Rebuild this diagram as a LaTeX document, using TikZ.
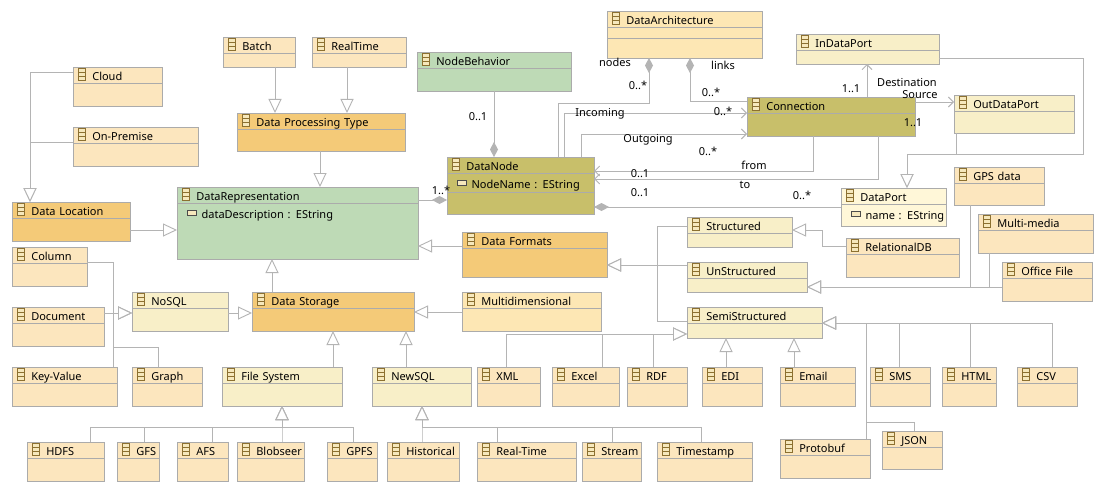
\documentclass[tikz,border=0pt]{standalone}
\usepackage{fontspec}
\setmainfont{Noto Sans}
\usetikzlibrary{arrows.meta}
\definecolor{cTan}{HTML}{FCE6BE}
\definecolor{cYel}{HTML}{FDE7B4}
\definecolor{cOrange}{HTML}{F4CA78}
\definecolor{cGreen}{HTML}{BEDAB6}
\definecolor{cOlive}{HTML}{C8BF6A}
\definecolor{cPale}{HTML}{F8EFC8}
\definecolor{cPaler}{HTML}{FFF7D8}
\definecolor{boxgray}{HTML}{ABABAB}
\definecolor{wiregray}{HTML}{B4B4B4}
\definecolor{icoline}{HTML}{8C7030}
\definecolor{icofill}{HTML}{F6E8BC}
\newcommand{\clsico}{\tikz[baseline=0pt]{\draw[icoline,fill=icofill,line width=0.8pt] (0pt,0pt) rectangle (7pt,12pt);
  \draw[icoline,line width=0.6pt] (0pt,4pt) -- (7pt,4pt) (0pt,8pt) -- (7pt,8pt);}\kern7pt}
\newcommand{\attr}[1]{\hspace*{5pt}\tikz[baseline=0pt]{\draw[black!70,fill=icofill,line width=0.6pt] (0pt,3pt) rectangle (9pt,7.5pt);}\kern5.5pt\mbox{#1}}
\tikzset{
  cls/.style 2 args={draw=boxgray, line width=0.9pt, anchor=north west, inner xsep=4.5pt, inner ysep=0pt, outer sep=0pt,
    text width=#1pt-9pt, text height=13.5pt, text depth=#2pt-13.5pt, align=left,
    path picture={\draw[boxgray,line width=0.9pt] ([yshift=-16pt]path picture bounding box.north west) -- ([yshift=-16pt]path picture bounding box.north east);}},
  wire/.style={draw=wiregray, line width=0.9pt},
  gen/.style={wire, -{Triangle[length=14pt,width=13pt,fill=white]}},
  nav/.style={wire, -{Straight Barb[length=5pt,width=10pt]}},
  comp/.style={wire, -{Diamond[length=15pt,width=8pt]}},
  compst/.style={wire, {Diamond[length=15pt,width=8pt]}-},
  lbl/.style={inner sep=0pt, text height=8pt, text depth=0pt}
}
\begin{document}
\begin{tikzpicture}[x=1pt, y=-1pt, every node/.style={font=\fontsize{11pt}{17.5pt}\selectfont}]
  \path[use as bounding box, fill=white] (0,0) rectangle (1107,492);
  % classes
  \node[cls={89}{39}, fill=cTan] (cloud) at (73,67) {\clsico Cloud};
  \node[cls={125}{39}, fill=cTan] (onprem) at (73,127) {\clsico On-Premise};
  \node[cls={118}{39}, fill=cOrange] (loc) at (12,202) {\clsico Data Location};
  \node[cls={72}{30}, fill=cTan] (batch) at (223,37) {\clsico Batch};
  \node[cls={94}{30}, fill=cTan] (realtime) at (312,37) {\clsico RealTime};
  \node[cls={168}{38}, fill=cOrange] (dpt) at (237,113) {\clsico Data Processing Type};
  \node[cls={241}{72}, fill=cGreen] (datarep) at (177,187) {\clsico DataRepresentation\\\attr{dataDescription : EString}};
  \node[cls={154}{39}, fill=cGreen] (behavior) at (417,52) {\clsico NodeBehavior};
  \node[cls={155}{47}, fill=cYel] (arch) at (607,11) {\clsico DataArchitecture};
  \node[cls={147}{57}, fill=cOlive] (datanode) at (447,157) {\clsico DataNode\\\attr{NodeName : EString}};
  \node[cls={168}{39}, fill=cOlive] (conn) at (747,97) {\clsico Connection};
  \node[cls={143}{30}, fill=cPale] (inport) at (796,34) {\clsico InDataPort};
  \node[cls={120}{38}, fill=cPale] (outport) at (954,95) {\clsico OutDataPort};
  \node[cls={105}{38}, fill=cPaler] (dataport) at (841,188) {\clsico DataPort\\\attr{name : EString}};
  \node[cls={90}{38}, fill=cTan] (gps) at (954,167) {\clsico GPS data};
  \node[cls={115}{39}, fill=cTan] (media) at (978,214) {\clsico Multi-media};
  \node[cls={90}{39}, fill=cTan] (office) at (1002,262) {\clsico Office File};
  \node[cls={113}{39}, fill=cTan] (reldb) at (846,238) {\clsico RelationalDB};
  \node[cls={105}{30}, fill=cPale] (struct) at (687,217) {\clsico Structured};
  \node[cls={120}{30}, fill=cPale] (unstruct) at (687,262) {\clsico UnStructured};
  \node[cls={135}{31}, fill=cPale] (semi) at (687,307) {\clsico SemiStructured};
  \node[cls={145}{45}, fill=cOrange] (formats) at (462,232) {\clsico Data Formats};
  \node[cls={162}{39}, fill=cOrange] (storage) at (252,292) {\clsico Data Storage};
  \node[cls={139}{39}, fill=cYel] (multidim) at (462,292) {\clsico Multidimensional};
  \node[cls={96}{39}, fill=cPale] (nosql) at (132,292) {\clsico NoSQL};
  \node[cls={75}{39}, fill=cTan] (column) at (12,247) {\clsico Column};
  \node[cls={92}{39}, fill=cTan] (document) at (12,307) {\clsico Document};
  \node[cls={105}{39}, fill=cTan] (keyvalue) at (12,367) {\clsico Key-Value};
  \node[cls={70}{39}, fill=cTan] (graph) at (132,367) {\clsico Graph};
  \node[cls={120}{39}, fill=cPale] (filesys) at (222,367) {\clsico File System};
  \node[cls={99}{39}, fill=cPale] (newsql) at (372,367) {\clsico NewSQL};
  \node[cls={63}{39}, fill=cTan] (xml) at (477,367) {\clsico XML};
  \node[cls={67}{39}, fill=cTan] (excel) at (552,367) {\clsico Excel};
  \node[cls={60}{39}, fill=cTan] (rdf) at (627,367) {\clsico RDF};
  \node[cls={60}{39}, fill=cTan] (edi) at (702,367) {\clsico EDI};
  \node[cls={75}{39}, fill=cTan] (email) at (780,367) {\clsico Email};
  \node[cls={60}{39}, fill=cTan] (sms) at (870,367) {\clsico SMS};
  \node[cls={54}{39}, fill=cTan] (html) at (942,367) {\clsico HTML};
  \node[cls={60}{39}, fill=cTan] (csv) at (1017,367) {\clsico CSV};
  \node[cls={77}{39}, fill=cTan] (hdfs) at (27,442) {\clsico HDFS};
  \node[cls={42}{39}, fill=cTan] (gfs) at (117,442) {\clsico GFS};
  \node[cls={51}{39}, fill=cTan] (afs) at (177,442) {\clsico AFS};
  \node[cls={67}{39}, fill=cTan] (blobseer) at (237,442) {\clsico Blobseer};
  \node[cls={50}{39}, fill=cTan] (gpfs) at (327,442) {\clsico GPFS};
  \node[cls={72}{39}, fill=cTan] (historical) at (387,442) {\clsico Historical};
  \node[cls={99}{39}, fill=cTan] (realtimedb) at (477,442) {\clsico Real-Time};
  \node[cls={59}{39}, fill=cTan] (stream) at (582,442) {\clsico Stream};
  \node[cls={95}{39}, fill=cTan] (timestamp) at (657,442) {\clsico Timestamp};
  \node[cls={90}{39}, fill=cTan] (protobuf) at (780,439) {\clsico Protobuf};
  \node[cls={60}{38}, fill=cTan] (json) at (882,431) {\clsico JSON};
  % second compartments
  \draw[boxgray, line width=0.9pt] ([yshift=-27pt]arch.north west) -- ([yshift=-27pt]arch.north east);
  \draw[boxgray, line width=0.9pt] ([yshift=-35pt]datanode.north west) -- ([yshift=-35pt]datanode.north east);
  % generalizations
  \draw[gen] ([yshift=-5pt]cloud.north west) -| ([xshift=18pt]loc.north west);
  \draw[gen] ([yshift=-15pt]onprem.north west) -| ([xshift=18pt]loc.north west);
  \draw[gen] ([xshift=52pt]batch.south west) -- ([xshift=38pt]dpt.north west);
  \draw[gen] ([xshift=35pt]realtime.south west) -- ([xshift=110pt]dpt.north west);
  \draw[gen] ([xshift=83pt]dpt.south west) -- ([xshift=143pt]datarep.north west);
  \draw[gen] ([yshift=-28pt]loc.north east) -- ([yshift=-43pt]datarep.north west);
  \draw[gen] ([yshift=-14pt]formats.north west) -- ([yshift=-59pt]datarep.north east);
  \draw[gen] ([xshift=20pt]storage.north west) -- ([xshift=95pt]datarep.south west);
  \draw[gen] ([yshift=-21pt]nosql.north east) -- ([yshift=-21pt]storage.north west);
  \draw[gen] ([yshift=-20pt]multidim.north west) -- ([yshift=-20pt]storage.north east);
  \draw[gen] ([xshift=111pt]filesys.north west) -- ([xshift=81pt]storage.south west);
  \draw[gen] ([xshift=34pt]newsql.north west) -- ([xshift=154pt]storage.south west);
  \draw[gen] ([yshift=-15pt]column.north east) -- ++(26,0) |- ([yshift=-21pt]nosql.north west);
  \draw[gen] ([yshift=-6pt]document.north east) -- ([yshift=-21pt]nosql.north west);
  \draw[gen] ([xshift=101pt]keyvalue.north west) |- ([yshift=-21pt]nosql.north west);
  \draw[gen] ([xshift=26pt]graph.north west) -- ++(0,-20) -- ++(-45,0) |- ([yshift=-21pt]nosql.north west);
  \foreach \n/\dx in {hdfs/63, gfs/27, afs/35, blobseer/45, gpfs/26}
    \draw[gen] ([xshift=\dx pt]\n.north west) -- ++(0,-15) -| ([xshift=60pt]filesys.south west);
  \foreach \n/\dx in {historical/35, realtimedb/20, stream/30, timestamp/44}
    \draw[gen] ([xshift=\dx pt]\n.north west) -- ++(0,-15) -| ([xshift=50pt]newsql.south west);
  \draw[gen] ([yshift=-9pt]struct.north west) -- ++(-30,0) |- ([yshift=-33pt]formats.north east);
  \draw[gen] ([yshift=-3pt]unstruct.north west) -- ([yshift=-33pt]formats.north east);
  \draw[gen] ([yshift=-14pt]semi.north west) -- ++(-30,0) |- ([yshift=-33pt]formats.north east);
  \draw[gen] ([yshift=-8pt]reldb.north west) -- ++(-24,0) |- ([yshift=-13pt]struct.north east);
  \draw[gen] ([yshift=-25pt]office.north west) -- ([yshift=-25pt]unstruct.north east);
  \draw[gen] ([xshift=16pt]gps.south west) |- ([yshift=-25pt]unstruct.north east);
  \draw[gen] ([xshift=11pt]media.south west) |- ([yshift=-25pt]unstruct.north east);
  \foreach \n/\dx in {csv/35, html/28, sms/29, protobuf/86}
    \draw[gen] ([xshift=\dx pt]\n.north west) |- ([yshift=-16pt]semi.north east);
  \draw[gen] ([xshift=32pt]json.north west) -- ++(0,-9) -- ++(-48,0) |- ([yshift=-16pt]semi.north east);
  \draw[gen] ([xshift=14pt]email.north west) -- ([xshift=107pt]semi.south west);
  \draw[gen] ([xshift=24pt]edi.north west) -- ([xshift=39pt]semi.south west);
  \foreach \n/\dx in {xml/29, excel/50, rdf/26}
    \draw[gen] ([xshift=\dx pt]\n.north west) |- ([yshift=-27pt]semi.north west);
  \draw[gen] ([yshift=-24pt]inport.north east) -- ++(144,0) -- ++(0,96) -| ([xshift=66pt]dataport.north west);
  \draw[gen] ([xshift=2pt]outport.south west) -- ++(0,21) -| ([xshift=66pt]dataport.north west);
  % associations
  \draw[comp] ([xshift=77pt]behavior.south west) -- ([xshift=47pt]datanode.north west);
  \draw[compst] ([xshift=42pt]arch.south west) -- ++(0,45) -| ([xshift=111pt]datanode.north west);
  \draw[compst] ([xshift=83pt]arch.south west) |- ([yshift=-4pt]conn.north west);
  \draw[nav] ([xshift=117pt]datanode.north west) |- ([yshift=-16pt]conn.north west);
  \draw[nav] ([xshift=134pt]datanode.north west) |- ([yshift=-37pt]conn.north west);
  \draw[nav] ([xshift=66pt]conn.south west) |- ([yshift=-14pt]datanode.north east);
  \draw[nav] ([xshift=131pt]conn.south west) |- ([yshift=-22pt]datanode.north east);
  \draw[nav] ([xshift=120pt]conn.north west) -- ([xshift=71pt]inport.south west);
  \draw[nav] ([yshift=-5pt]conn.north east) -- ([yshift=-7pt]outport.north west);
  \draw[compst] ([yshift=-50pt]datanode.north east) -- ([yshift=-19pt]dataport.north west);
  \draw[comp] ([yshift=-13pt]datarep.north east) -- ([yshift=-43pt]datanode.north west);
  % role names and multiplicities
  \node[lbl] (m-beh) at (478,117) {0..1};
  \node[lbl] (r-nodes) at (615,63) {nodes};
  \node[lbl] (m-nodes) at (638,86) {0..*};
  \node[lbl] (r-links) at (723,66) {links};
  \node[lbl] (m-links) at (711,93) {0..*};
  \node[lbl] (r-in) at (600,113) {Incoming};
  \node[lbl] (m-in) at (723,112) {0..*};
  \node[lbl] (r-out) at (648,138) {Outgoing};
  \node[lbl] (m-out) at (708,151) {0..*};
  \node[lbl] (r-from) at (754,165) {from};
  \node[lbl] (m-from) at (640,173) {0..1};
  \node[lbl] (r-to) at (745,184) {to};
  \node[lbl] (m-to) at (640,192) {0..1};
  \node[lbl] (m-port) at (802,195) {0..*};
  \node[lbl] (m-rep) at (441,190) {1..*};
  \node[lbl] (m-dest) at (851,89) {1..1};
  \node[lbl] (r-dest) at (907,83) {Destination};
  \node[lbl] (r-src) at (920,95) {Source};
  \node[lbl] (m-src) at (913,123) {1..1};
\end{tikzpicture}
\end{document}
